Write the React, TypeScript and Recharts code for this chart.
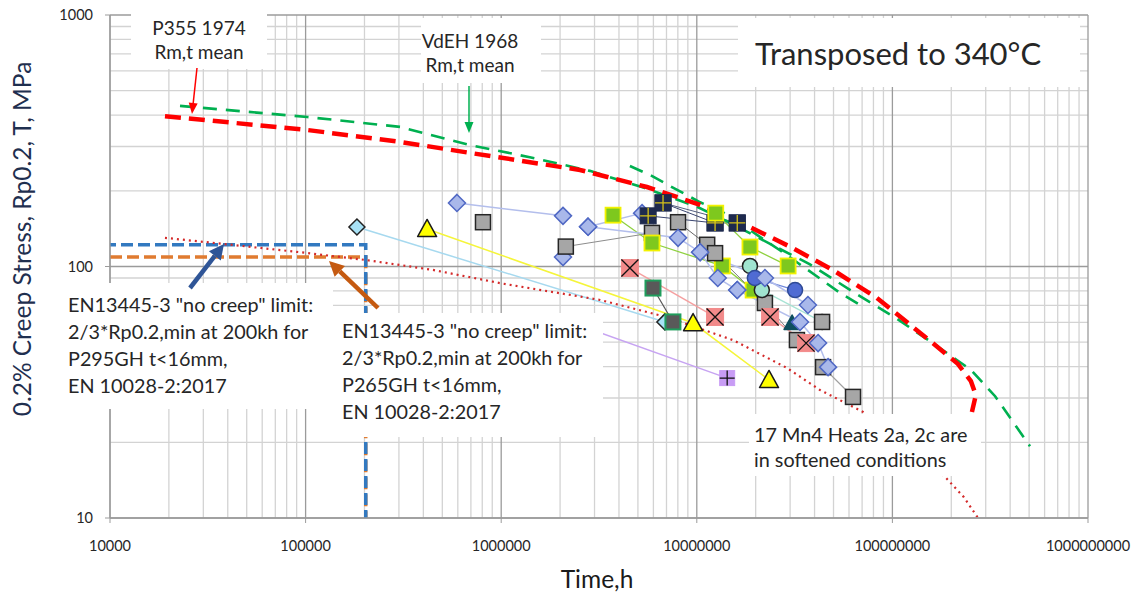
import React from 'react';
import { ComposedChart, Line, XAxis, YAxis, CartesianGrid } from 'recharts';

const W = 1147;
const H = 594;
const FONT = "Lato, 'Open Sans', sans-serif";

// ---------- axes ----------
const xTicks = [1e4, 1e5, 1e6, 1e7, 1e8, 1e9];
const yTicks = [10, 100, 1000];
const minorSteps = [2, 3, 4, 5, 6, 7, 8, 9];
const xMinor = [1e4, 1e5, 1e6, 1e7, 1e8].flatMap((d) => minorSteps.map((m) => m * d));
const yMinor = [10, 100].flatMap((d) => minorSteps.map((m) => m * d));

// ---------- curves [time h, stress MPa] ----------
const p355RmMean = [
  [1.91e4, 396], [1.02e5, 349], [3.04e5, 313], [6.92e5, 283], [2.53e6, 242], [5.56e6, 207],
  [1.04e7, 176], [1.66e7, 150], [2.99e7, 120], [4.96e7, 96.9], [8.33e7, 75], [1.63e8, 49.2],
  [2.16e8, 41], [2.52e8, 35], [2.67e8, 30.8], [2.55e8, 26.4],
];
const vdeh1968RmMean = [
  [2.28e4, 435], [1.02e5, 393], [3.04e5, 359], [6.92e5, 304], [1.4e6, 272], [2.84e6, 240],
  [5.43e6, 205], [1.0e7, 173], [1.51e7, 148], [2.37e7, 123], [3.79e7, 102], [6.07e7, 80.7],
  [1.06e8, 61.8], [1.69e8, 48.3], [2.52e8, 38.8], [3.35e8, 30.5], [5.05e8, 19.3],
];
const vdeh1968Branch = [
  [4.55e6, 251], [5.77e6, 231], [7.13e6, 211], [1.04e7, 180], [1.35e7, 165], [1.76e7, 144],
  [2.66e7, 116], [4.02e7, 92.5], [5.4e7, 78.5], [6.83e7, 70.3],
];
const softenedTrend = [
  [1.91e4, 130], [3.78e4, 123], [9.35e4, 114], [2.06e5, 106], [4.48e5, 96.9], [9.86e5, 85.9],
  [3.2e6, 73.6], [7.04e6, 62.9], [1.53e7, 51], [2.89e7, 39.5], [4.26e7, 32.3], [7.08e7, 26.4],
  [1.84e8, 14.7], [2.32e8, 12.1], [2.74e8, 10],
];
const limitP295GH = [[1e4, 122], [2.03e5, 122], [2.03e5, 10]];
const limitP265GH = [[1e4, 109], [2.03e5, 109], [2.03e5, 10]];

// ---------- test data series [time h, stress MPa] ----------
const lightBlueDiamonds = [[1.83e5, 143.6], [6.87e6, 60.2]];
const yellowTriangles = [[4.18e5, 141], [9.57e6, 59.6], [2.34e7, 35.4]];
const diamondsA = [[5.94e5, 179], [2.07e6, 159]];
const diamondsB = [[2.78e6, 144], [5.25e6, 163]];
const diamondsC = [[2.07e6, 109]];
const diamondsD = [[2.78e6, 144], [8.02e6, 130], [1.04e7, 114], [1.28e7, 90], [1.61e7, 80.6]];
const diamondsE = [[1.04e7, 114], [2.23e7, 90], [3.7e7, 70.3]];
const diamondsF = [[1.61e7, 80.6], [3.37e7, 60.2], [4.17e7, 49.6], [4.69e7, 39.8]];
const graySquaresA = [[8.07e5, 150]];
const graySquaresB = [[2.14e6, 120], [5.9e6, 136]];
const graySquaresC = [[8.02e6, 150], [1.13e7, 122]];
const graySquaresD = [[1.24e7, 113], [2.23e7, 71.6], [3.25e7, 51]];
const graySquaresE = [[4.37e7, 60.2]];
const graySquaresF = [[4.42e7, 39.8], [6.29e7, 30.3]];
const navyA = [[5.64e6, 159], [1.24e7, 149], [1.61e7, 149]];
const navyB = [[6.72e6, 179], [1.24e7, 149]];
const navyC = [[6.72e6, 179], [1.61e7, 149]];
const limeA = [[3.73e6, 160], [5.9e6, 124], [1.35e7, 100.5], [1.94e7, 80.6]];
const limeB = [[1.25e7, 163], [1.87e7, 119.5], [2.93e7, 100.5]];
const blueCircles = [[1.98e7, 90], [3.18e7, 80.6]];
const tealCircles = [[1.87e7, 100.5], [2.15e7, 80.6], [4.37e7, 60.2]];
const salmonA = [[4.55e6, 98.6], [1.24e7, 63]];
const salmonB = [[2.37e7, 63], [3.62e7, 49.6]];
const darkGreenSquares = [[5.97e6, 82.1], [7.55e6, 60.2]];
const darkTealTriangles = [[3.07e7, 59.6]];
const purpleSquares = [[2.25e6, 60.2], [1.43e7, 36]];

const toRows = (a: number[][]) => a.map(([t, s]) => ({ t, s }));

// ---------- marker shapes ----------
type Draw = (cx: number, cy: number) => React.ReactNode;
const dotOf = (draw: Draw) => (p: any) => {
  const { cx, cy, index } = p;
  if (cx == null || cy == null || isNaN(cx) || isNaN(cy)) return <g key={`e${index}`} />;
  return <g key={`d${index}`}>{draw(cx, cy)}</g>;
};
const diamond = (fill: string, stroke: string, r = 8.5, sw = 1.5): Draw => (cx, cy) => (
  <path d={`M${cx},${cy - r}L${cx + r},${cy}L${cx},${cy + r}L${cx - r},${cy}Z`} fill={fill} stroke={stroke} strokeWidth={sw} />
);
const square = (fill: string, stroke: string, h = 7.5, sw = 1.5, mark?: 'plus' | 'x', markColor = '#000'): Draw => (cx, cy) => (
  <g>
    <rect x={cx - h} y={cy - h} width={2 * h} height={2 * h} fill={fill} stroke={stroke} strokeWidth={sw} />
    {mark === 'plus' && (
      <path d={`M${cx - h},${cy}H${cx + h}M${cx},${cy - h}V${cy + h}`} stroke={markColor} strokeWidth={1.3} />
    )}
    {mark === 'x' && (
      <path d={`M${cx - h},${cy - h}L${cx + h},${cy + h}M${cx + h},${cy - h}L${cx - h},${cy + h}`} stroke={markColor} strokeWidth={1.3} />
    )}
  </g>
);
const circle = (fill: string, stroke: string, r = 7.5, sw = 1.5): Draw => (cx, cy) => (
  <circle cx={cx} cy={cy} r={r} fill={fill} stroke={stroke} strokeWidth={sw} />
);
const triangle = (fill: string, stroke: string, r = 9.5, sw = 1.5): Draw => (cx, cy) => (
  <path d={`M${cx},${cy - r}L${cx + r},${cy + r * 0.8}L${cx - r},${cy + r * 0.8}Z`} fill={fill} stroke={stroke} strokeWidth={sw} strokeLinejoin="round" />
);

type SeriesDef = { key: string; data: number[][]; line: string; lw: number; draw: Draw };
const markerSeries: SeriesDef[] = [
  { key: 'lightBlueDiamonds', data: lightBlueDiamonds, line: '#a6d9ef', lw: 1.5, draw: diamond('#a8e2f6', '#222', 8) },
  { key: 'yellowTriangles', data: yellowTriangles, line: '#f5f53a', lw: 1.5, draw: triangle('#ffff00', '#1a1a1a') },
  { key: 'purpleSquares', data: purpleSquares, line: '#c7a4f2', lw: 1.5, draw: square('#c89cf5', '#c89cf5', 7.5, 1, 'plus', '#111') },
  { key: 'diamondsA', data: diamondsA, line: '#b3beec', lw: 1.5, draw: diamond('#a9b8ea', '#5068c4') },
  { key: 'diamondsB', data: diamondsB, line: '#b3beec', lw: 1.5, draw: diamond('#a9b8ea', '#5068c4') },
  { key: 'diamondsC', data: diamondsC, line: '#b3beec', lw: 1.5, draw: diamond('#a9b8ea', '#5068c4') },
  { key: 'graySquaresA', data: graySquaresA, line: '#8c8c8c', lw: 1, draw: square('#a6a6a6', '#262626') },
  { key: 'graySquaresB', data: graySquaresB, line: '#8c8c8c', lw: 1, draw: square('#a6a6a6', '#262626') },
  { key: 'salmonA', data: salmonA, line: '#f5a0a0', lw: 1.5, draw: square('#f28a8a', '#f28a8a', 8.5, 1, 'x', '#111') },
  { key: 'darkGreenSquares', data: darkGreenSquares, line: '#555555', lw: 1.2, draw: square('#595959', '#1f9d5c', 7.5, 2) },
  { key: 'limeA', data: limeA, line: '#8fd13f', lw: 1.3, draw: square('#7ec81e', '#f2f200', 7.5, 1.8) },
  { key: 'graySquaresC', data: graySquaresC, line: '#666666', lw: 1, draw: square('#a6a6a6', '#262626') },
  { key: 'navyA', data: navyA, line: '#3b4670', lw: 1, draw: square('#1e2a4e', '#1e2a4e', 8, 1, 'plus', '#d6c21a') },
  { key: 'navyB', data: navyB, line: '#3b4670', lw: 1, draw: square('#1e2a4e', '#1e2a4e', 8, 1, 'plus', '#d6c21a') },
  { key: 'navyC', data: navyC, line: '#55607f', lw: 1, draw: square('#1e2a4e', '#1e2a4e', 8, 1, 'plus', '#d6c21a') },
  { key: 'diamondsD', data: diamondsD, line: '#b3beec', lw: 1.5, draw: diamond('#a9b8ea', '#5068c4') },
  { key: 'graySquaresD', data: graySquaresD, line: '#7f7f7f', lw: 1, draw: square('#a6a6a6', '#262626') },
  { key: 'limeB', data: limeB, line: '#8fd13f', lw: 1.3, draw: square('#7ec81e', '#f2f200', 7.5, 1.8) },
  { key: 'tealCircles', data: tealCircles, line: '#a7e3d4', lw: 1.3, draw: circle('#a0e4d0', '#222') },
  { key: 'blueCircles', data: blueCircles, line: '#6f87dc', lw: 1.3, draw: circle('#4f6bd3', '#2f4a96') },
  { key: 'diamondsE', data: diamondsE, line: '#b3beec', lw: 1.5, draw: diamond('#a9b8ea', '#5068c4') },
  { key: 'salmonB', data: salmonB, line: '#f5a0a0', lw: 1.5, draw: square('#f28a8a', '#f28a8a', 8.5, 1, 'x', '#111') },
  { key: 'darkTealTriangles', data: darkTealTriangles, line: '#0e4f5d', lw: 1, draw: triangle('#0e4f5d', '#0e4f5d', 8) },
  { key: 'graySquaresE', data: graySquaresE, line: '#7f7f7f', lw: 1, draw: square('#a6a6a6', '#262626') },
  { key: 'graySquaresF', data: graySquaresF, line: '#a0a0a0', lw: 1.3, draw: square('#a6a6a6', '#262626') },
  { key: 'diamondsF', data: diamondsF, line: '#b3beec', lw: 1.5, draw: diamond('#a9b8ea', '#5068c4') },
];

// ---------- annotation overlay ----------
const Arrow = ({ x1, y1, x2, y2, color, w, hl, hw }: any) => {
  const a = Math.atan2(y2 - y1, x2 - x1);
  const bx = x2 - hl * Math.cos(a);
  const by = y2 - hl * Math.sin(a);
  const px = -Math.sin(a) * hw;
  const py = Math.cos(a) * hw;
  return (
    <g>
      <line x1={x1} y1={y1} x2={bx} y2={by} stroke={color} strokeWidth={w} />
      <polygon points={`${x2},${y2} ${bx + px},${by + py} ${bx - px},${by - py}`} fill={color} />
    </g>
  );
};

const TXT = '#262626';
const BOX_FS = 19.8;

const Overlay = () => (
  <svg width={W} height={H} style={{ position: 'absolute', left: 0, top: 0, pointerEvents: 'none' }} fontFamily={FONT}>
    {/* P355 box */}
    <rect x={131} y={12} width={136} height={57} fill="#fff" />
    <text x={199} y={35} textAnchor="middle" fontSize={19} fill={TXT}>P355 1974</text>
    <text x={199} y={59} textAnchor="middle" fontSize={19} fill={TXT}>Rm,t mean</text>
    <Arrow x1={197} y1={68} x2={192} y2={114} color="#ff0000" w={1.5} hl={11} hw={4.5} />

    {/* VdEH box */}
    <rect x={421} y={18} width={120} height={65} fill="#fff" />
    <text x={470} y={48} textAnchor="middle" fontSize={19} fill={TXT}>VdEH 1968</text>
    <text x={470} y={72} textAnchor="middle" fontSize={19} fill={TXT}>Rm,t mean</text>
    <Arrow x1={469} y1={86} x2={469} y2={133} color="#00b050" w={1.5} hl={11} hw={4.5} />

    {/* Title box */}
    <rect x={738} y={18} width={342} height={69} fill="#fff" />
    <text x={755} y={65} fontSize={31} fill={TXT}>Transposed to 340°C</text>

    {/* P295GH box */}
    <rect x={58} y={283} width={275} height={126} fill="#fff" />
    <text x={68} y={312} fontSize={BOX_FS} fill={TXT}>{'EN13445-3 "no creep" limit:'}</text>
    <text x={68} y={339} fontSize={BOX_FS} fill={TXT}>2/3*Rp0.2,min at 200kh for</text>
    <text x={68} y={366} fontSize={BOX_FS} fill={TXT}>P295GH t&lt;16mm,</text>
    <text x={68} y={393} fontSize={BOX_FS} fill={TXT}>EN 10028-2:2017</text>
    <Arrow x1={190} y1={288} x2={224} y2={244} color="#2f5597" w={4.5} hl={15} hw={7.5} />

    {/* P265GH box */}
    <rect x={333} y={313} width={270} height={124} fill="#fff" />
    <text x={342} y={338} fontSize={BOX_FS} fill={TXT}>{'EN13445-3 "no creep" limit:'}</text>
    <text x={342} y={365} fontSize={BOX_FS} fill={TXT}>2/3*Rp0.2,min at 200kh for</text>
    <text x={342} y={392} fontSize={BOX_FS} fill={TXT}>P265GH t&lt;16mm,</text>
    <text x={342} y={419} fontSize={BOX_FS} fill={TXT}>EN 10028-2:2017</text>
    <Arrow x1={378} y1={308} x2={329} y2={261} color="#c55a11" w={4.5} hl={15} hw={7.5} />

    {/* 17 Mn4 box */}
    <rect x={749} y={414} width={232} height={62} fill="#fff" />
    <text x={754} y={442} fontSize={BOX_FS} fill={TXT}>17 Mn4 Heats 2a, 2c are</text>
    <text x={754} y={467} fontSize={BOX_FS} fill={TXT}>in softened conditions</text>

    {/* axis titles */}
    <text x={0} y={0} transform="translate(31,239) rotate(-90)" textAnchor="middle" fontSize={24.5} fill="#1f2f4f">
      0.2% Creep Stress, Rp0.2, T, MPa
    </text>
    <text x={597} y={588} textAnchor="middle" fontSize={24.5} fill="#1a1a1a">Time,h</text>
  </svg>
);

export default function App() {
  return (
    <div style={{ position: 'relative', width: W, height: H, background: '#fff' }}>
      <style>{'body{margin:0;background:#fff}'}</style>
      <ComposedChart width={W} height={H} margin={{ top: 15, right: 59, left: 50, bottom: 46 }}>
        <CartesianGrid horizontalValues={yMinor} verticalValues={xMinor} stroke="#d3d3d3" strokeWidth={1.3} />
        <CartesianGrid horizontalValues={yTicks} verticalValues={xTicks} stroke="#9b9b9b" strokeWidth={1.3} />
        <XAxis
          dataKey="t"
          type="number"
          scale="log"
          domain={[1e4, 1e9]}
          ticks={xTicks}
          allowDataOverflow
          interval={0}
          height={30}
          tickSize={5}
          tickMargin={18}
          tickFormatter={(v: number) => String(Math.round(v))}
          tick={{ fontSize: 14.5, fill: '#262626', fontFamily: FONT }}
          tickLine={{ stroke: '#9b9b9b' }}
          axisLine={{ stroke: '#9b9b9b', strokeWidth: 1.3 }}
        />
        <YAxis
          dataKey="s"
          type="number"
          scale="log"
          domain={[10, 1000]}
          ticks={yTicks}
          allowDataOverflow
          interval={0}
          width={60}
          tickSize={5}
          tickMargin={12}
          tick={{ fontSize: 14.5, fill: '#262626', fontFamily: FONT }}
          tickLine={{ stroke: '#9b9b9b' }}
          axisLine={{ stroke: '#9b9b9b', strokeWidth: 1.3 }}
        />

        <Line data={toRows(limitP265GH)} dataKey="s" type="linear" stroke="#e07b30" strokeWidth={3.5} strokeDasharray="12 5" dot={false} activeDot={false} isAnimationActive={false} />
        <Line data={toRows(limitP295GH)} dataKey="s" type="linear" stroke="#3279c0" strokeWidth={3.5} strokeDasharray="12 5" strokeDashoffset={6} dot={false} activeDot={false} isAnimationActive={false} />

        {markerSeries.map((s) => (
          <Line
            key={s.key}
            data={toRows(s.data)}
            dataKey="s"
            type="linear"
            stroke={s.line}
            strokeWidth={s.lw}
            dot={dotOf(s.draw)}
            activeDot={false}
            isAnimationActive={false}
          />
        ))}

        <Line data={toRows(softenedTrend)} dataKey="s" type="linear" stroke="#d42a2a" strokeWidth={2.2} strokeDasharray="2 4" dot={false} activeDot={false} isAnimationActive={false} />
        <Line data={toRows(vdeh1968Branch)} dataKey="s" type="linear" stroke="#00b050" strokeWidth={2.6} strokeDasharray="14 9" dot={false} activeDot={false} isAnimationActive={false} />
        <Line data={toRows(vdeh1968RmMean)} dataKey="s" type="linear" stroke="#00b050" strokeWidth={2.6} strokeDasharray="14 9" dot={false} activeDot={false} isAnimationActive={false} />
        <Line data={toRows(p355RmMean)} dataKey="s" type="linear" stroke="#ff0000" strokeWidth={4.5} strokeDasharray="16 8" dot={false} activeDot={false} isAnimationActive={false} />
      </ComposedChart>
      <Overlay />
    </div>
  );
}
